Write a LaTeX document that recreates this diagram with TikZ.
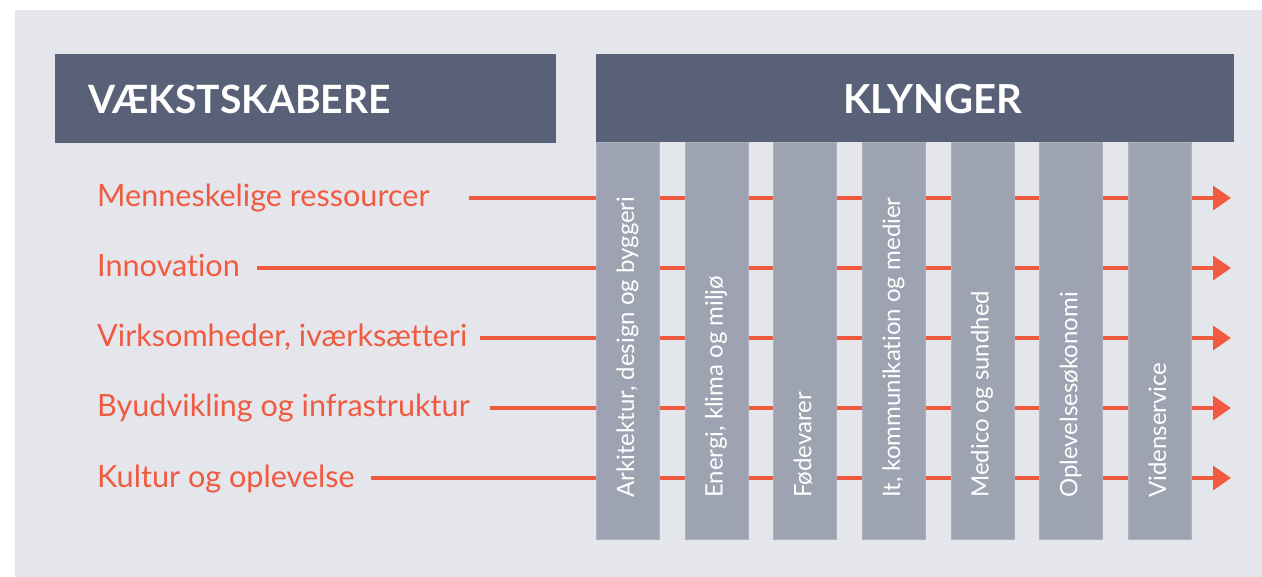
\documentclass[tikz,border=0pt]{standalone}
\usepackage{fontspec}
\setmainfont{Lato}[Ligatures=NoCommon]
\usepackage{xcolor}
\usepackage{tikz}
\usetikzlibrary{positioning,calc,arrows.meta}

\definecolor{bggray}{HTML}{E5E6EB}
\definecolor{headblue}{HTML}{586178}
\definecolor{colgray}{HTML}{9EA3B2}
\definecolor{flowred}{HTML}{F05A40}

\tikzset{
    header/.style={fill=headblue, draw=none},
    headtxt/.style={text=white, font=\fontsize{40}{42}\selectfont\bfseries, anchor=base west, inner sep=0pt},
    colbox/.style={fill=colgray, draw=colgray!85!white, line width=1pt, anchor=north west, minimum width=63pt, minimum height=397pt, inner sep=0pt},
    coltxt/.style={text=white, font=\fontsize{24}{26}\selectfont, rotate=90, anchor=base west, inner sep=0pt},
    lbl/.style={text=flowred, font=\fontsize{30.6}{33}\selectfont, anchor=base west, inner sep=0pt},
    flow/.style={draw=flowred, line width=3.5pt, -{Triangle[length=18pt, width=24pt]}}
}

\begin{document}
\begin{tikzpicture}[x=1pt, y=-1pt]
    \useasboundingbox (0,0) rectangle (1262,577);
    \fill[bggray] (15,10) rectangle (1262,577);

    % Headers
    \fill[header] (55,54) rectangle (556,143);
    \node[headtxt, font=\fontsize{39}{41}\selectfont\bfseries] (vaekst) at (88,114) {VÆKSTSKABERE};
    \fill[header] (596,54) rectangle (1234,142);
    \node[headtxt] (klynger) at (843,114) {KLYNGER};

    % Growth drivers
    \node[lbl] (l1) at (97,207) {Menneskelige ressourcer};
    \node[lbl] (l2) at (97,277) {Innovation};
    \node[lbl] (l3) at (97,347) {Virksomheder, iværksætteri};
    \node[lbl] (l4) at (97,417) {Byudvikling og infrastruktur};
    \node[lbl] (l5) at (97,487) {Kultur og oplevelse};

    % Arrows (behind the columns)
    \coordinate (s1) at (469,198);
    \coordinate (s2) at (257,268);
    \coordinate (s3) at (480,338);
    \coordinate (s4) at (490,408);
    \coordinate (s5) at (371,478);
    \foreach \i/\y in {1/198,2/268,3/338,4/408,5/478}{
        \coordinate (e\i) at (1231,\y);
        \draw[flow] (s\i) -- (e\i);
    }

    % Clusters
    \foreach \i/\t in {0/{Arkitektur, design og byggeri},1/{Energi, klima og miljø},2/Fødevarer,3/{It, kommunikation og medier},4/{Medico og sundhed},5/Oplevelsesøkonomi,6/Videnservice}{
        \node[colbox] (c\i) at ({596+88.67*\i},142) {};
        \node[coltxt] (t\i) at ($(c\i.south)+(6,-42)$) {\t};
    }
\end{tikzpicture}
\end{document}
